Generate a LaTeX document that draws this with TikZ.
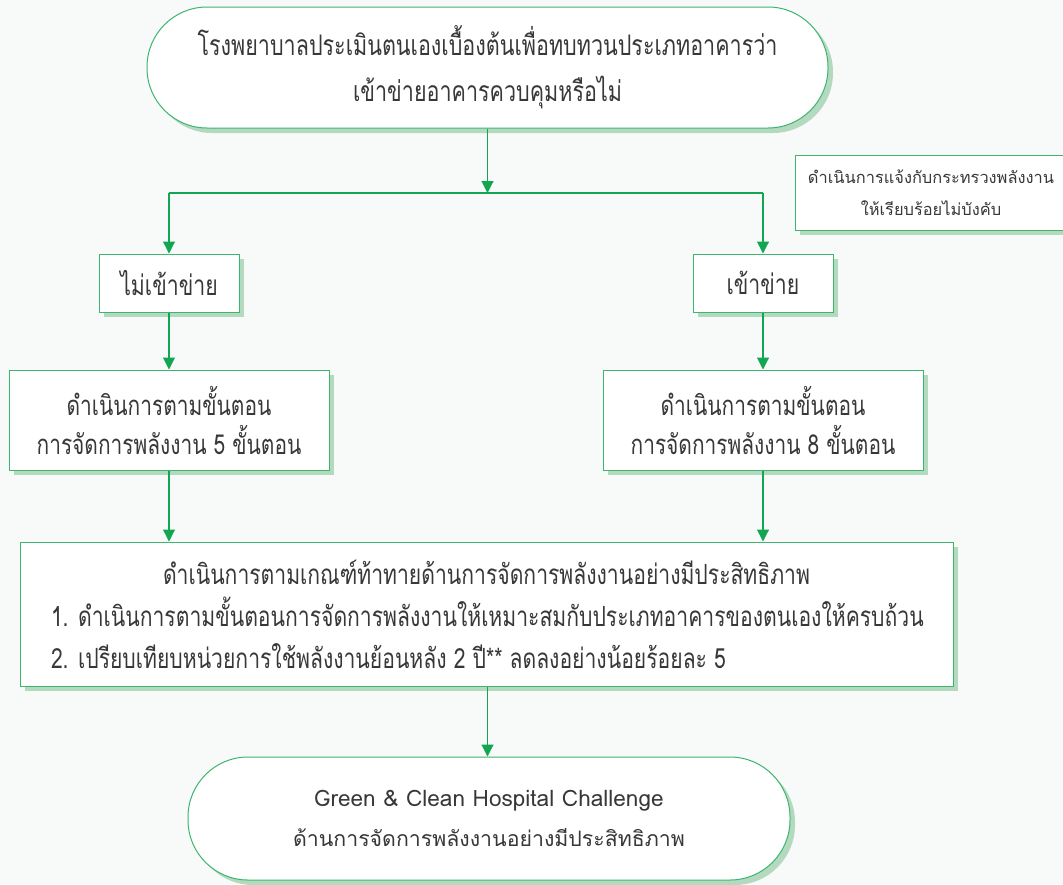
\documentclass[tikz,border=0pt]{standalone}
\usepackage{fontspec}
\newfontfamily\thai[Script=Thai]{Loma}
\newfontfamily\thain[Script=Thai,FakeStretch=0.76]{Loma}
\usetikzlibrary{shadows,arrows.meta}
\definecolor{bg}{HTML}{F8FAF9}
\definecolor{edge}{HTML}{3DB56E}
\definecolor{arr}{HTML}{12A552}
\definecolor{shad}{HTML}{B3DABF}
\definecolor{txt}{HTML}{383838}
\tikzset{
  box/.style={draw=edge, line width=1pt, fill=white, text=txt, align=center,
    inner sep=0pt, drop shadow={shadow xshift=5pt, shadow yshift=-5pt, fill=shad, opacity=1}},
  stad/.style={box, rounded corners=60pt},
  conn/.style={draw=arr, line width=1.1pt},
  arw/.style={conn, -{Triangle[length=12pt,width=12pt]}},
}
\begin{document}
\begin{tikzpicture}[x=1pt,y=-1pt]
\useasboundingbox (0,0) rectangle (1063,884);
\clip (0,0) rectangle (1063,884);
\fill[bg] (0,0) rectangle (1063,884);

\node[stad, minimum width=681pt, minimum height=121pt,
  font=\thain\fontsize{28.3}{46}\selectfont] (top) at (487.5,67.5)
  {โรงพยาบาลประเมินตนเองเบื้องต้นเพื่อทบทวนประเภทอาคารว่า\\เข้าข่ายอาคารควบคุมหรือไม่};

\node[box, minimum width=272pt, minimum height=75pt,
  font=\thai\fontsize{16.4}{32}\selectfont] (note) at (931,192.5)
  {ดำเนินการแจ้งกับกระทรวงพลังงาน\\ให้เรียบร้อยไม่บังคับ};

\node[box, minimum width=140pt, minimum height=58pt,
  font=\thain\fontsize{28}{39}\selectfont] (no) at (169,283) {ไม่เข้าข่าย};
\node[box, minimum width=140pt, minimum height=58pt,
  font=\thain\fontsize{28}{39}\selectfont] (yes) at (763,283) {เข้าข่าย};

\node[box, minimum width=320pt, minimum height=100pt,
  font=\thain\fontsize{27.5}{39}\selectfont] (no2) at (169,420)
  {ดำเนินการตามขั้นตอน\\การจัดการพลังงาน 5 ขั้นตอน};
\node[box, minimum width=320pt, minimum height=100pt,
  font=\thain\fontsize{27.5}{39}\selectfont] (yes2) at (763,420)
  {ดำเนินการตามขั้นตอน\\การจัดการพลังงาน 8 ขั้นตอน};

\node[box, minimum width=933pt, minimum height=144pt,
  font=\thain\fontsize{27.8}{42}\selectfont] (big) at (486.5,614)
  {ดำเนินการตามเกณฑ์ท้าทายด้านการจัดการพลังงานอย่างมีประสิทธิภาพ\\
   \makebox[0pt][l]{\hspace*{-435.5pt}1. ดำเนินการตามขั้นตอนการจัดการพลังงานให้เหมาะสมกับประเภทอาคารของตนเองให้ครบถ้วน}\\
   \makebox[0pt][l]{\hspace*{-435.5pt}2. เปรียบเทียบหน่วยการใช้พลังงานย้อนหลัง 2 ปี** ลดลงอย่างน้อยร้อยละ 5}};

\node[stad, minimum width=602pt, minimum height=123pt,
  font=\thai\fontsize{21.3}{40}\selectfont] (bot) at (489,818.5)
  {{\fontsize{22.6}{40}\selectfont Green \& Clean Hospital Challenge}\\ด้านการจัดการพลังงานอย่างมีประสิทธิภาพ};

\coordinate (jm) at (487.5,193);
\coordinate (jl) at (169,193);
\coordinate (jr) at (763,193);

\draw[arw] (top) -- (jm);
\draw[conn] (jl) -- (jr);
\draw[arw] (jl) -- (no);
\draw[arw] (jr) -- (yes);
\draw[arw] (no) -- (no2);
\draw[arw] (yes) -- (yes2);
\draw[arw] (no2) -- (no2 |- big.north);
\draw[arw] (yes2) -- (yes2 |- big.north);
\draw[arw] (big.south -| jm) -- (jm |- bot.north);
\end{tikzpicture}
\end{document}
